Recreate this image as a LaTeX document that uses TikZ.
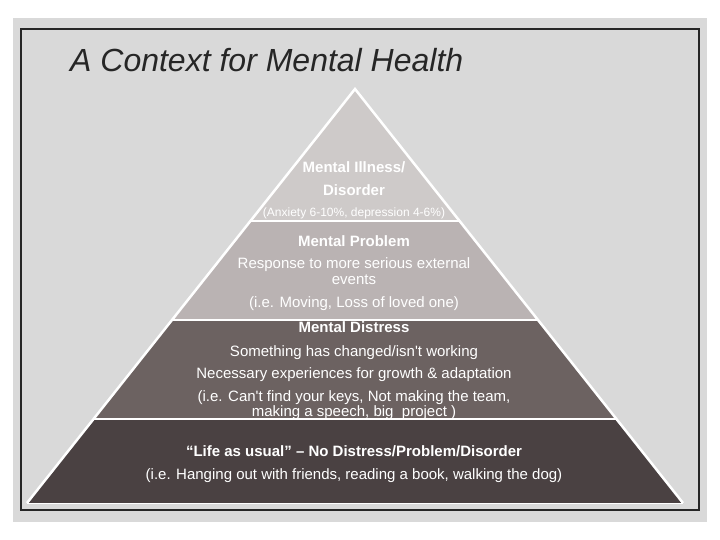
\documentclass[tikz,border=0pt]{standalone}
\usepackage{fontspec}
\setmainfont{Liberation Sans}[Ligatures=TeXOff]
\usetikzlibrary{calc}
\definecolor{bggray}{HTML}{D9D9D9}
\definecolor{lvlone}{HTML}{CECAC9}
\definecolor{lvltwo}{HTML}{BAB3B3}
\definecolor{lvlthree}{HTML}{6C6261}
\definecolor{lvlfour}{HTML}{4A4142}
\begin{document}
\begin{tikzpicture}[x=1pt,y=-1pt,
  lvl/.style={font=\fontsize{15}{18}\selectfont, text=white, anchor=base, inner sep=0pt},
  lvlb/.style={lvl, font=\fontsize{15}{18}\selectfont\bfseries},
  lvls/.style={lvl, font=\fontsize{12}{14}\selectfont},
  sepline/.style={white, line width=2pt}]
\useasboundingbox (0,0) rectangle (720,540);
\fill[white] (0,0) rectangle (720,540);
\fill[bggray] (13,18) rectangle (707,522);
\draw[line width=1.3pt, black!85] (21,29) rectangle (699,510);
\node[anchor=base west, inner sep=0pt, font=\fontsize{32}{36}\selectfont\itshape, text=black!85] (title) at (70,72) {A Context for Mental Health};
% pyramid
\coordinate (A) at (355,89);
\coordinate (L) at (27,503);
\coordinate (R) at (683,503);
\coordinate (l1) at ($(A)!{132/414}!(L)$);
\coordinate (r1) at ($(A)!{132/414}!(R)$);
\coordinate (l2) at ($(A)!{231/414}!(L)$);
\coordinate (r2) at ($(A)!{231/414}!(R)$);
\coordinate (l3) at ($(A)!{330/414}!(L)$);
\coordinate (r3) at ($(A)!{330/414}!(R)$);
\fill[lvlone] (A) -- (r1) -- (l1) -- cycle;
\fill[lvltwo] (l1) -- (r1) -- (r2) -- (l2) -- cycle;
\fill[lvlthree] (l2) -- (r2) -- (r3) -- (l3) -- cycle;
\fill[lvlfour] (l3) -- (r3) -- (R) -- (L) -- cycle;
% texts
\node[lvlb] (t1a) at (354,173) {Mental Illness/};
\node[lvlb] (t1b) at (354,196) {Disorder};
\node[lvls] (t1c) at (354,216) {(Anxiety 6-10\%, depression 4-6\%)};
\node[lvlb] (t2a) at (354,246) {Mental Problem};
\node[lvl] (t2b) at (354,268) {Response to more serious external};
\node[lvl] (t2c) at (354,284) {events};
\node[lvl] (t2d) at (354,307) {(i.e. Moving, Loss of loved one)};
\node[lvlb] (t3a) at (354,332) {Mental Distress};
\node[lvl] (t3b) at (354,356) {Something has changed/isn't working};
\node[lvl] (t3c) at (354,378) {Necessary experiences for growth \& adaptation};
\node[lvl] (t3d) at (354,401) {(i.e. Can't find your keys, Not making the team,};
\node[lvl] (t3e) at (354,416) {making a speech, big\ \ project )};
\node[lvlb] (t4a) at (354,456) {“Life as usual” – No Distress/Problem/Disorder};
\node[lvl] (t4b) at (354,479) {(i.e. Hanging out with friends, reading a book, walking the dog)};
% outlines
\draw[sepline] (l1) -- (r1);
\draw[sepline] (l2) -- (r2);
\draw[sepline] (l3) -- (r3);
\draw[white, line width=2.5pt] (L) -- (A) -- (R);
\draw[white, line width=1pt] (L) -- (R);
\end{tikzpicture}
\end{document}
